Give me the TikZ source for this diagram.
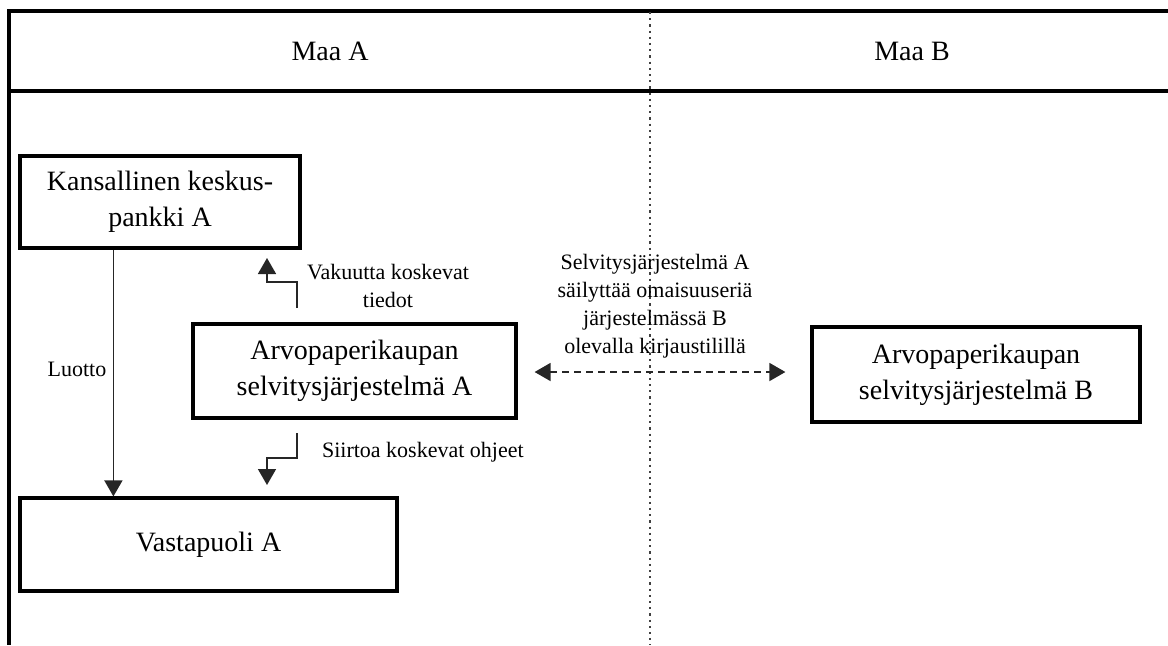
\documentclass[tikz,border=0pt]{standalone}
\usepackage{fontspec}
\setmainfont{Liberation Serif}
\usetikzlibrary{arrows.meta}

\begin{document}
\begin{tikzpicture}[x=0.5pt, y=-0.5pt,
    box/.style={draw, line width=1.6pt, inner sep=0pt, align=center, font=\fontsize{14}{18}\selectfont},
    lbl/.style={align=center, font=\fontsize{11}{14}\selectfont},
    flow/.style={draw=black!85, line width=0.8pt, -{Triangle[length=8pt,width=9pt]}},
    frame/.style={line width=1.6pt}]
\useasboundingbox (0,0) rectangle (1168,645);
\draw[frame] (1168,11) -- (9,11) -- (9,645);
\draw[frame] (9,91) -- (1168,91);
\draw[black!75, line width=1.1pt, dotted] (650,12) -- (650,645);
\node[font=\fontsize{14}{18}\selectfont] (maaA) at (330,51) {Maa A};
\node[font=\fontsize{14}{18}\selectfont] (maaB) at (912,51) {Maa B};
\node[box, minimum width=140pt, minimum height=46pt] (cb) at (160,202) {Kansallinen keskus-\\pankki A};
\node[box, minimum width=161.5pt, minimum height=47pt] (sa) at (354.5,371) {Arvopaperikaupan\\selvitysjärjestelmä A};
\node[box, minimum width=164pt, minimum height=47.5pt] (sb) at (976,374.5) {Arvopaperikaupan\\selvitysjärjestelmä B};
\node[box, minimum width=188.5pt, minimum height=46.5pt] (cp) at (208.5,544.5) {Vastapuoli A};
\coordinate (v1) at (297,308);
\coordinate (v2) at (267,258);
\coordinate (s1) at (297,433);
\coordinate (s2) at (267,485);
\draw[flow] ([xshift=47.5pt]cb.south west) -- ([xshift=47.5pt]cb.south west |- cp.north);
\draw[flow] (v1) -- ++(0,-26) -| (v2);
\draw[flow] (s1) -- ++(0,25) -| (s2);
\draw[flow, {Triangle[length=8pt,width=9pt]}-{Triangle[length=8pt,width=9pt]}, dash pattern=on 3.5pt off 2.5pt, shorten >=12.5pt]
    ([xshift=8.5pt,yshift=-0.5pt]sa.east) -- ([yshift=-0.5pt]sa.east -| sb.west);
\node[lbl] (luotto) at (77,369) {Luotto};
\node[lbl] (vak) at (388,286) {Vakuutta koskevat\\tiedot};
\node[lbl, anchor=west] (sii) at (315,452) {Siirtoa koskevat ohjeet};
\node[lbl] (selv) at (655,306) {Selvitysjärjestelmä A\\säilyttää omaisuuseriä\\järjestelmässä B\\olevalla kirjaustilillä};
\end{tikzpicture}
\end{document}
